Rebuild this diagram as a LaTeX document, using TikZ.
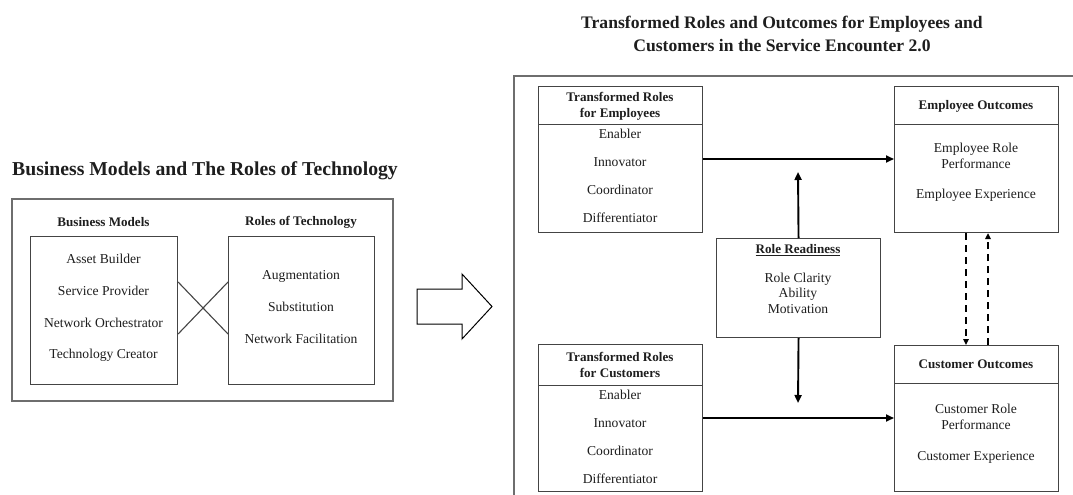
\documentclass[tikz,border=0pt]{standalone}
\usepackage{fontspec}
\setmainfont{Liberation Serif}
\usetikzlibrary{arrows.meta,calc}
\definecolor{ink}{HTML}{1E1E1E}
\definecolor{framegray}{HTML}{6E6E6E}
\definecolor{boxgray}{HTML}{444444}
\begin{document}
\begin{tikzpicture}[x=1pt,y=-1pt,
  frame/.style={draw=framegray,line width=1.2pt},
  box/.style={draw=boxgray,line width=1.1pt,inner sep=0pt,anchor=north west},
  divider/.style={draw=boxgray,line width=0.8pt},
  body/.style={text=ink,inner sep=0pt,text height=0.7em,text depth=0.2em,
    font=\fontsize{13.6}{15.5}\selectfont},
  multi/.style={text=ink,inner sep=0pt,align=center,
    font=\fontsize{13.6}{15.5}\selectfont},
  head/.style={text=ink,inner sep=0pt,align=center,
    font=\fontsize{13.1}{16}\selectfont\bfseries},
  flow/.style={draw=black,line width=1.9pt,-{Triangle[length=8pt,width=7pt]}},
  dflow/.style={draw=black,line width=1.8pt,dash pattern=on 7pt off 5pt,
    -{Triangle[length=6pt,width=5.5pt]}},
  bigarrow/.style={draw=black,line width=1pt,fill=white,line join=miter}]
\useasboundingbox (0,0) rectangle (1073,495);
\fill[white] (0,0) rectangle (1073,495);

% ---- titles ----
\node[text=ink,inner sep=0pt,font=\fontsize{19.7}{23}\selectfont\bfseries]
  (ltitle) at (205,171) {Business Models and The Roles of Technology};
\node[text=ink,inner sep=0pt,align=center,font=\fontsize{17.6}{23}\selectfont\bfseries]
  (rtitle) at (782,33.5) {Transformed Roles and Outcomes for Employees and\\Customers in the Service Encounter 2.0};

% ---- left panel: business models and roles of technology ----
\draw[frame] (12,199) rectangle (393,401);
\node[head] (bmhead) at (103.5,222) {Business Models};
\node[head] (rthead) at (301,222) {Roles of Technology};
\node[box,minimum width=147pt,minimum height=148pt] (bm) at (30,236) {};
\node[box,minimum width=146pt,minimum height=148pt] (rt) at (228,236) {};
\node[body] (bm1) at (103.5,261) {Asset Builder};
\node[body] (bm2) at (103.5,293) {Service Provider};
\node[body] (bm3) at (103.5,325) {Network Orchestrator};
\node[body] (bm4) at (103.5,356) {Technology Creator};
\node[body] (rt1) at (301,277) {Augmentation};
\node[body] (rt2) at (301,309) {Substitution};
\node[body] (rt3) at (301,341) {Network Facilitation};
\draw[draw=boxgray,line width=1.1pt] ([yshift=-46pt]bm.north east) -- ([yshift=-98pt]rt.north west);
\draw[draw=boxgray,line width=1.1pt] ([yshift=-98pt]bm.north east) -- ([yshift=-46pt]rt.north west);

% ---- block arrow between the panels ----
\draw[bigarrow] (417,289) -- (462,289) -- (462,274) -- (492,306.5)
  -- (462,339) -- (462,324) -- (417,324) -- cycle;

% ---- right panel: transformed roles and outcomes ----
\draw[frame] (514,520) -- (514,76) -- (1100,76);

\node[box,minimum width=164pt,minimum height=146pt] (tre) at (538,86) {};
\draw[divider] ([yshift=-38pt]tre.north west) -- ([yshift=-38pt]tre.north east);
\node[head] (trehead) at (620,106) {Transformed Roles\\for Employees};
\node[body] (tre1) at (620,136) {Enabler};
\node[body] (tre2) at (620,164) {Innovator};
\node[body] (tre3) at (620,192) {Coordinator};
\node[body] (tre4) at (620,220) {Differentiator};

\node[box,minimum width=164pt,minimum height=147pt] (trc) at (538,344) {};
\draw[divider] ([yshift=-41pt]trc.north west) -- ([yshift=-41pt]trc.north east);
\node[head] (trchead) at (620,365) {Transformed Roles\\for Customers};
\node[body] (trc1) at (620,397) {Enabler};
\node[body] (trc2) at (620,425) {Innovator};
\node[body] (trc3) at (620,453) {Coordinator};
\node[body] (trc4) at (620,481) {Differentiator};

\node[box,minimum width=164pt,minimum height=146pt] (eo) at (894,86) {};
\draw[divider] ([yshift=-38pt]eo.north west) -- ([yshift=-38pt]eo.north east);
\node[head] (eohead) at (976,106) {Employee Outcomes};
\node[multi] (eo1) at (976,156) {Employee Role\\Performance};
\node[body] (eo2) at (976,196) {Employee Experience};

\node[box,minimum width=164pt,minimum height=146pt] (co) at (894,345) {};
\draw[divider] ([yshift=-38pt]co.north west) -- ([yshift=-38pt]co.north east);
\node[head] (cohead) at (976,364) {Customer Outcomes};
\node[multi] (co1) at (976,417) {Customer Role\\Performance};
\node[body] (co2) at (976,458) {Customer Experience};

\node[box,minimum width=164pt,minimum height=99pt] (rr) at (716,238) {};
\node[head] (rrhead) at (798,250) {\underline{Role Readiness}};
\node[multi] (rr1) at (798,293) {Role Clarity\\Ability\\Motivation};

% ---- connectors ----
\coordinate (upend) at (798,172);
\coordinate (downend) at (798,403);
\draw[flow] ([yshift=-73pt]tre.north east) -- ([yshift=-73pt]eo.north west);
\draw[flow] ([yshift=-74pt]trc.north east) -- ([yshift=-73pt]co.north west);
\draw[flow] (rr.north) -- (upend);
\draw[flow] (rr.south) -- (downend);
\draw[dflow] ([xshift=72pt]eo.south west) -- ([xshift=72pt]co.north west);
\draw[dflow] ([xshift=94pt]co.north west) -- ([xshift=94pt]eo.south west);
\end{tikzpicture}
\end{document}
